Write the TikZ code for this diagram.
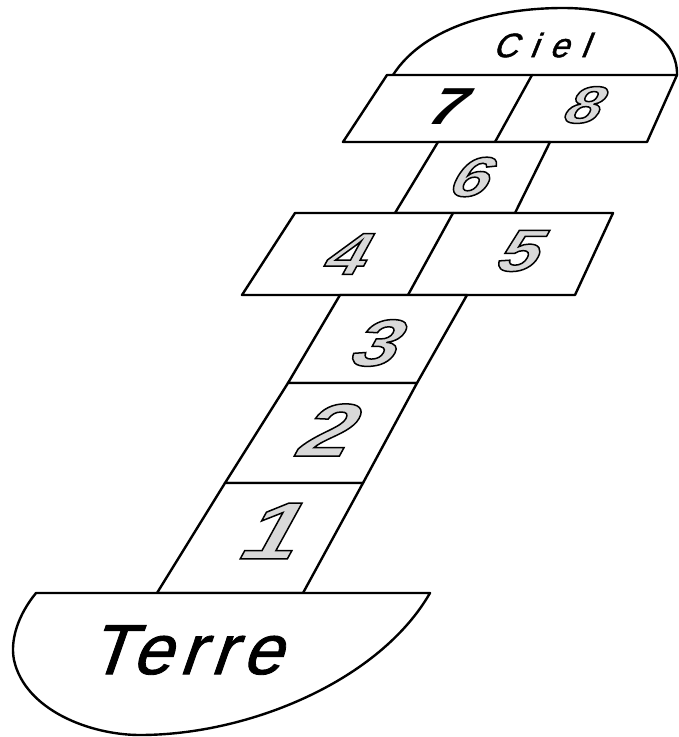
\documentclass[tikz,border=0pt]{standalone}
\usepackage{fontspec}
\newfontfamily\digitf[FakeSlant=0.55, FakeStretch=1.25]{Liberation Sans}
\newfontfamily\terref[LetterSpace=11, FakeSlant=0.35, FakeBold=1.2]{Liberation Sans}
\newfontfamily\cielf[LetterSpace=36, FakeSlant=0.4, FakeBold=1.3]{Liberation Sans}
\newcommand\hollowdigit[2]{{\fontsize{#1}{#1}\selectfont\digitf\bfseries\color{white!70!gray}\special{pdf:literal direct 2 Tr 1.5 w 0 G}#2\special{pdf:literal direct 0 Tr}}}
\newcommand\soliddigit[2]{{\fontsize{#1}{#1}\selectfont\digitf\bfseries #2}}
\tikzset{
  box/.style={draw=black, line width=2.4pt, line join=round, fill=white},
  edge/.style={draw=black, line width=2.4pt, line join=round, line cap=round},
  lab/.style={inner sep=0pt, outer sep=0pt},
}
\begin{document}
\begin{tikzpicture}[x=1pt,y=-1pt]
\useasboundingbox (0,0) rectangle (679,737);
% Ciel dome
\draw[edge] (393,75) .. controls (425,25) and (500,8) .. (563,8) .. controls (630,8) and (678,35) .. (677,75);
% row 7/8
\draw[box] (387,75) -- (677,75) -- (647,142) -- (343,142) -- cycle;
\draw[edge] (532,75) -- (495,142);
% row 6
\draw[box] (438,142) -- (550,142) -- (515,213) -- (395,213) -- cycle;
% row 4/5
\draw[box] (295,213) -- (613,213) -- (575,295) -- (242,295) -- cycle;
\draw[edge] (453,213) -- (408,295);
% row 3
\draw[box] (340,295) -- (467,295) -- (417,383) -- (288,383) -- cycle;
% row 2
\draw[box] (288,383) -- (417,383) -- (363,483) -- (225,483) -- cycle;
% row 1
\draw[box] (225,483) -- (363,483) -- (303,593) -- (157,593) -- cycle;
% Terre
\draw[box] (36,593) -- (430,593) .. controls (380,680) and (250,735) .. (140,735)
  .. controls (90,735) and (25,710) .. (14,660) .. controls (10,640) and (18,615) .. (36,593) -- cycle;
% labels
\node[lab] (ciel) at (540,45) {\fontsize{34}{34}\selectfont\cielf Ciel};
\node[lab] (n7) at (441,107) {\soliddigit{52}{7}};
\node[lab] (n8) at (577,105) {\hollowdigit{52}{8}};
\node[lab] (n6) at (464,177) {\hollowdigit{56}{6}};
\node[lab] (n4) at (339,254) {\hollowdigit{59}{4}};
\node[lab] (n5) at (512,251) {\hollowdigit{59}{5}};
\node[lab] (n3) at (368,343) {\hollowdigit{66}{3}};
\node[lab] (n2) at (317,430) {\hollowdigit{75}{2}};
\node[lab] (n1) at (262,531) {\hollowdigit{81}{1}};
\node[lab] (terre) at (184,650) {\fontsize{71}{71}\selectfont\terref Terre};
\end{tikzpicture}
\end{document}
